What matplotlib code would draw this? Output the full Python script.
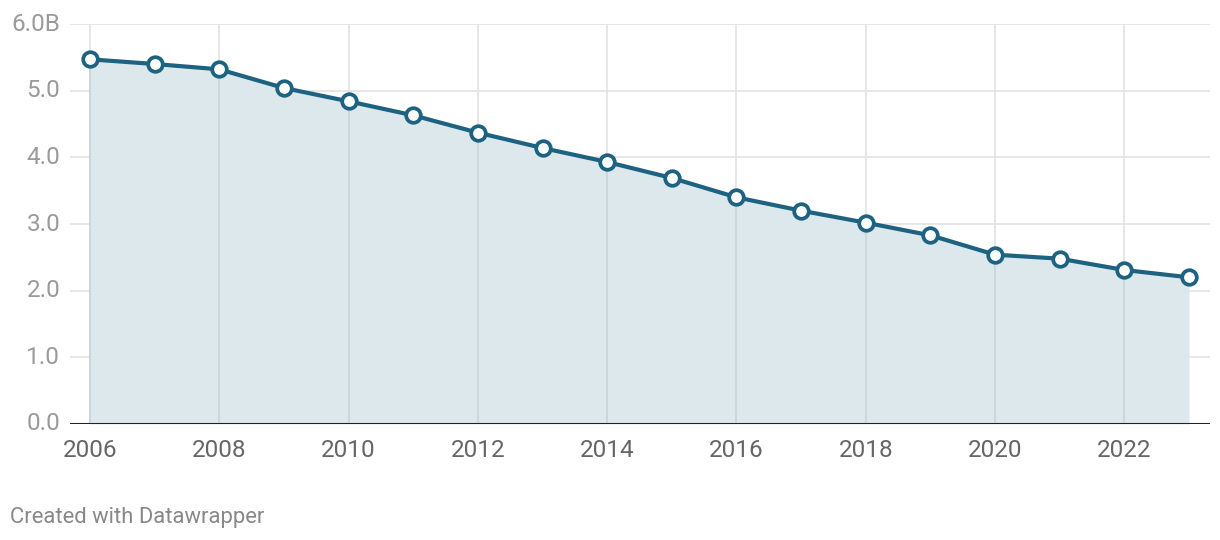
import matplotlib
matplotlib.use('Agg')
import matplotlib.pyplot as plt

years = [2006, 2007, 2008, 2009, 2010, 2011, 2012, 2013, 2014, 2015,
         2016, 2017, 2018, 2019, 2020, 2021, 2022, 2023]
values = [5.47, 5.40, 5.32, 5.04, 4.84, 4.63, 4.37, 4.14, 3.93, 3.69,
          3.40, 3.20, 3.02, 2.83, 2.54, 2.48, 2.31, 2.20]
yticks = [0, 1, 2, 3, 4, 5, 6]
yticklabels = ['0.0', '1.0', '2.0', '3.0', '4.0', '5.0', '6.0B']
xticks = list(range(2006, 2023, 2))

plt.rcParams['font.family'] = ['Roboto', 'DejaVu Sans']

fig = plt.figure(figsize=(12.2, 5.4), dpi=100)
ax = fig.add_axes([70 / 1220, 1 - 424 / 540, 1140 / 1220, 400 / 540])

line_color = '#1d6381'
ax.fill_between(years, values, 0, color='#dde8ed', zorder=1, linewidth=0)
ax.plot(years, values, color=line_color, linewidth=3, zorder=3,
        marker='o', markersize=10.5, markerfacecolor='white',
        markeredgecolor=line_color, markeredgewidth=2.7, clip_on=False)

ax.set_xlim(2006 - 20 / 64.6, 2023 + 21 / 64.6)
ax.set_ylim(0, 6)

# grid: light above the area, a bit darker inside it
for y in yticks[1:]:
    ax.axhline(y, color='#e3e3e3', linewidth=1.2, zorder=0)
for x in xticks:
    ax.axvline(x, color='#e3e3e3', linewidth=1.2, zorder=0)
    top = values[years.index(x)]
    ax.plot([x, x], [0, top], color='#c9d3d8', linewidth=1.2, zorder=2)
ax.axhline(0, color='#222222', linewidth=2.2, zorder=4)

ax.set_yticks(yticks)
ax.set_yticklabels(yticklabels)
ax.set_xticks(xticks)
ax.tick_params(axis='y', length=0, pad=7, labelsize=17.5, labelcolor='#9a9a9a')
ax.tick_params(axis='x', length=0, pad=11, labelsize=17.5, labelcolor='#666666')
for lbl in ax.get_yticklabels():
    lbl.set_verticalalignment('center')
for s in ax.spines.values():
    s.set_visible(False)
ax.patch.set_alpha(0)

fig.text(10 / 1220, 1 - 517 / 540, 'Created with Datawrapper', fontsize=15.8,
         color='#888888', va='center', ha='left')

fig.savefig('out.png', dpi=100)
